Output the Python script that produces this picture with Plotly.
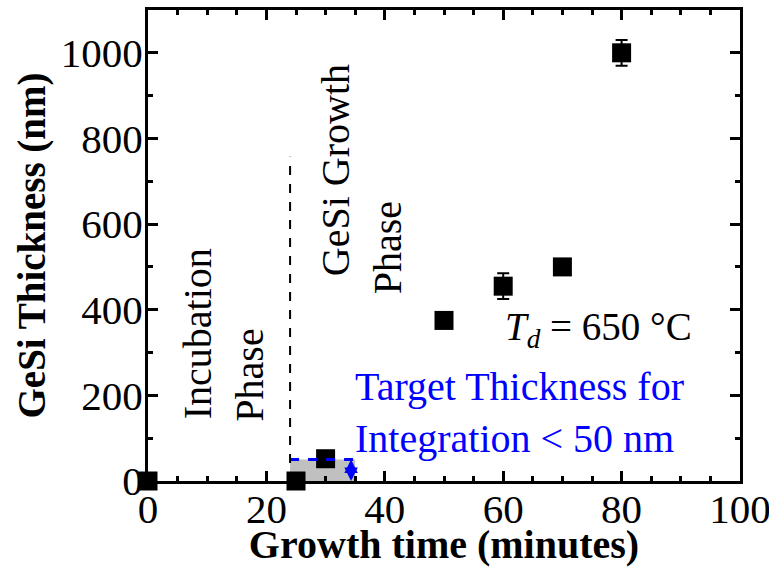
import plotly.graph_objects as go

# Data
time_min = [0, 25, 30, 50, 60, 70, 80]
thickness_nm = [0, 0, 52, 375, 455, 500, 1000]
thickness_err = [0, 0, 5, 10, 30, 15, 30]

x_ticks = [0, 20, 40, 60, 80, 100]
y_ticks = [0, 200, 400, 600, 800, 1000]

target_x0, target_x1, target_thick = 24, 35, 50
incub_end = 24
incub_line_top = 757

FONT = "Liberation Serif"

fig = go.Figure()

# gray target region
fig.add_shape(type="rect", xref="x", yref="y", x0=target_x0, x1=target_x1, y0=0, y1=target_thick,
              fillcolor="#c0c0c0", line=dict(width=0), layer="below")
fig.add_shape(type="line", xref="x", yref="y", x0=target_x0, x1=target_x1, y0=target_thick, y1=target_thick,
              line=dict(color="blue", width=3, dash="dash"))
fig.add_shape(type="line", xref="x", yref="y", x0=incub_end, x1=incub_end, y0=0, y1=incub_line_top,
              line=dict(color="black", width=2, dash="dash"))

fig.add_trace(go.Scatter(
    x=time_min, y=thickness_nm, mode="markers", cliponaxis=False,
    marker=dict(symbol="square", size=19, color="black"),
    error_y=dict(type="data", array=thickness_err, visible=True, color="black", thickness=2, width=6),
    showlegend=False,
))

# double arrow
for yt in [target_thick, 0]:
    fig.add_annotation(x=34.3, y=yt, ax=34.3, ay=target_thick / 2, xref="x", yref="y", axref="x", ayref="y",
                       showarrow=True, arrowhead=2, arrowsize=0.9, arrowwidth=3, arrowcolor="blue", text="")

tf = dict(family=FONT, size=40, color="black")
fig.add_annotation(x=8.3, y=343, text="Incubation", textangle=-90, showarrow=False, font=tf)
fig.add_annotation(x=17.2, y=248, text="Phase", textangle=-90, showarrow=False, font=tf)
fig.add_annotation(x=31.6, y=726, text="GeSi Growth", textangle=-90, showarrow=False, font=tf)
fig.add_annotation(x=40.4, y=544, text="Phase", textangle=-90, showarrow=False, font=tf)
fig.add_annotation(x=34.6, y=161, text="Target Thickness for<br>Integration &lt; 50 nm", xanchor="left",
                   align="left", showarrow=False, font=dict(family=FONT, size=40, color="blue"))
fig.add_annotation(x=60, y=353, text="<i>T<sub>d</sub></i> = 650 °C", xanchor="left",
                   showarrow=False, font=dict(family=FONT, size=39, color="black"))

axis_common = dict(
    showline=True, linewidth=3, linecolor="black", mirror="ticks",
    ticks="inside", ticklen=10, tickwidth=3, tickcolor="black",
    showgrid=False, zeroline=False, ticklabeloverflow="allow",
    tickfont=dict(family=FONT, size=41, color="black"),
)

fig.update_xaxes(**axis_common, range=[0, 100], tickvals=x_ticks, ticklabelstandoff=-10,
                 minor=dict(dtick=5, ticks="inside", ticklen=5, tickwidth=3, tickcolor="black", showgrid=False),
                 title=dict(text="<b>Growth time (minutes)</b>", font=dict(family=FONT, size=40, color="black"),
                            standoff=8))
fig.update_yaxes(**axis_common, range=[0, 1100], tickvals=y_ticks, ticklabelstandoff=-6,
                 minor=dict(dtick=100, ticks="inside", ticklen=5, tickwidth=3, tickcolor="black", showgrid=False),
                 title=dict(text="<b>GeSi Thickness (nm)</b>", font=dict(family=FONT, size=39, color="black"),
                            standoff=4))

fig.update_layout(
    width=769, height=567,
    margin=dict(l=148, r=29, t=10, b=86, autoexpand=False),
    plot_bgcolor="white", paper_bgcolor="white",
    font=dict(family=FONT),
)

fig.write_html("out.html")
